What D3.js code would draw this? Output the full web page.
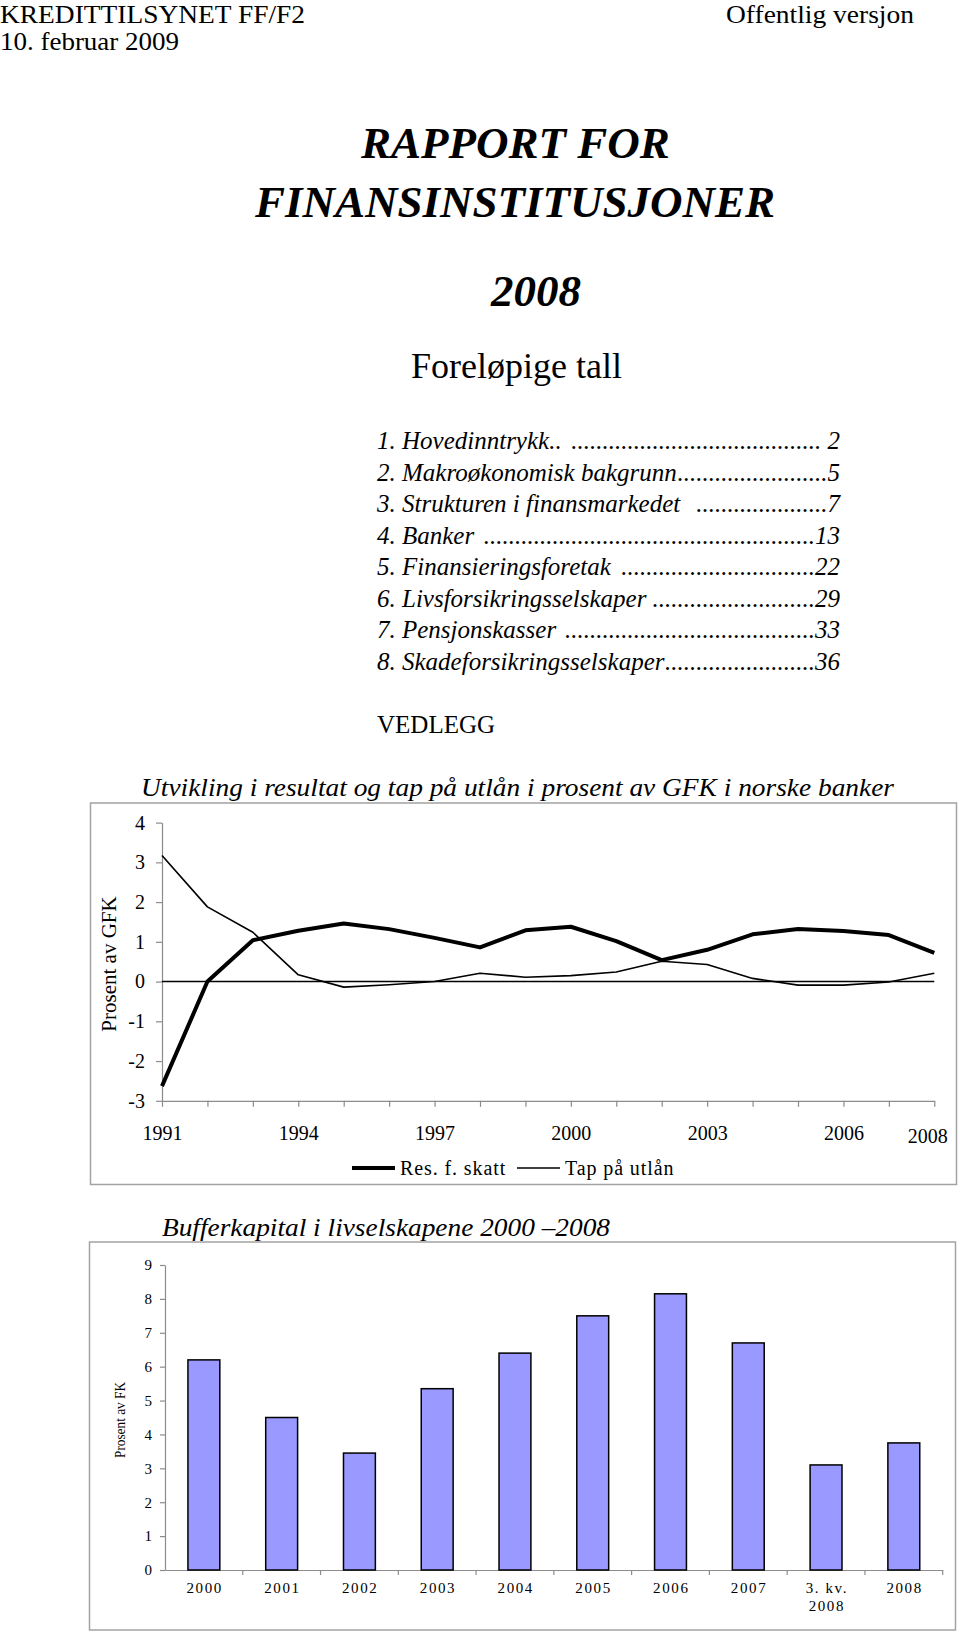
<!DOCTYPE html>
<html><head><meta charset="utf-8">
<script src="https://cdn.jsdelivr.net/npm/d3@7"></script>
<style>
body{margin:0;background:#fff}
svg{display:block}
text{font-family:"Liberation Serif","Times New Roman",serif;fill:#000}
</style>
</head><body>
<svg id="c" width="960" height="1635"></svg>
<script>
// ---------- data ----------
const headerLeft = ["KREDITTILSYNET FF/F2", "10. februar 2009"];
const headerRight = "Offentlig versjon";
const titleLines = ["RAPPORT FOR", "FINANSINSTITUSJONER"];
const titleYear = "2008";
const subtitle = "Foreløpige tall";
const tocLabels = ["1. Hovedinntrykk.. ", "2. Makroøkonomisk bakgrunn", "3. Strukturen i finansmarkedet  ",
  "4. Banker ", "5. Finansieringsforetak ", "6. Livsforsikringsselskaper", "7. Pensjonskasser ",
  "8. Skadeforsikringsselskaper"];
const tocPages = [" 2", "5", "7", "13", "22", "29", "33", "36"];
const appendixLabel = "VEDLEGG";

const lineTitle = "Utvikling i resultat og tap på utlån i prosent av GFK i norske banker";
const lineYLabel = "Prosent av GFK";
const years = [1991,1992,1993,1994,1995,1996,1997,1998,1999,2000,2001,2002,2003,2004,2005,2006,2007,2008];
const resFSkatt = [-2.63,0.0,1.04,1.28,1.46,1.32,1.10,0.86,1.29,1.38,1.02,0.54,0.80,1.19,1.32,1.27,1.17,0.72];
const tapPaUtlan = [3.17,1.88,1.24,0.17,-0.14,-0.08,0.0,0.21,0.11,0.15,0.24,0.51,0.43,0.08,-0.09,-0.09,-0.01,0.21];
const lineSeriesNames = ["Res. f. skatt", "Tap på utlån"];
const lineYTicks = [-3,-2,-1,0,1,2,3,4];
const lineXLabels = [1991,1994,1997,2000,2003,2006,2008];

const barTitle = "Bufferkapital i livselskapene 2000 –2008";
const barYLabel = "Prosent av FK";
const barCategories = ["2000","2001","2002","2003","2004","2005","2006","2007","3. kv.|2008","2008b"];
const barLabels = ["2000","2001","2002","2003","2004","2005","2006","2007",["3. kv.","2008"],"2008"];
const barValues = [6.2,4.5,3.45,5.35,6.4,7.5,8.15,6.7,3.1,3.75];
const barYTicks = [0,1,2,3,4,5,6,7,8,9];

// ---------- page ----------
const svg = d3.select("#c");
const FONT = '"Liberation Serif","Times New Roman",serif';

svg.append("text").attr("x",0).attr("y",22.5).attr("font-size",25)
  .attr("textLength",305).attr("lengthAdjust","spacingAndGlyphs").text(headerLeft[0]);
svg.append("text").attr("x",0).attr("y",50).attr("font-size",26)
  .attr("textLength",179).attr("lengthAdjust","spacingAndGlyphs").text(headerLeft[1]);
svg.append("text").attr("x",726).attr("y",22.5).attr("font-size",25)
  .attr("textLength",188).attr("lengthAdjust","spacingAndGlyphs").text(headerRight);

svg.append("text").attr("x",361).attr("y",158).attr("font-size",45).attr("font-weight","bold").attr("font-style","italic").text(titleLines[0]);
svg.append("text").attr("x",255).attr("y",217).attr("font-size",45).attr("font-weight","bold").attr("font-style","italic").text(titleLines[1]);
svg.append("text").attr("x",491).attr("y",306).attr("font-size",45).attr("font-weight","bold").attr("font-style","italic").text(titleYear);
svg.append("text").attr("x",411).attr("y",378).attr("font-size",36).text(subtitle);

// table of contents with dot leaders
const toc = svg.append("g").attr("font-size",25).attr("font-style","italic");
const tocRight = 840, tocLeft = 377;
tocLabels.forEach((lab,i) => {
  const yb = 449 + i*31.57;
  const t = toc.append("text").attr("x",tocLeft).attr("y",yb).style("white-space","pre").text(lab);
  const w = t.node().getComputedTextLength();
  const p = toc.append("text").attr("x",tocRight).attr("y",yb).attr("text-anchor","end").style("white-space","pre").text(tocPages[i]);
  const pw = p.node().getComputedTextLength();
  const d = toc.append("text").attr("y",yb).attr("text-anchor","end").text(".");
  const dw = d.node().getComputedTextLength();
  const n = Math.max(0, Math.floor((tocRight - pw - (tocLeft + w)) / dw));
  d.attr("x", tocRight - pw).text(".".repeat(n));
});
svg.append("text").attr("x",377).attr("y",733).attr("font-size",25).text(appendixLabel);

// ---------- line chart ----------
const frameColor = "#a3a3a3", axisColor = "#8c8c8c";
svg.append("rect").attr("x",90.5).attr("y",803).attr("width",866).attr("height",381.5)
  .attr("fill","none").attr("stroke",frameColor).attr("stroke-width",1.5);
svg.append("text").attr("x",141).attr("y",796).attr("font-size",26).attr("font-style","italic")
  .attr("textLength",753).attr("lengthAdjust","spacingAndGlyphs").text(lineTitle);

const lx = d3.scaleLinear().domain([1991,2008]).range([162,934.3]);
const ly = d3.scaleLinear().domain([-3,4]).range([1100.8,822.6]);

const gy = svg.append("g").attr("transform",`translate(${lx(1991)},0)`)
  .call(d3.axisLeft(ly).tickValues(lineYTicks).tickSize(6).tickSizeOuter(0).tickPadding(11).tickFormat(d => String(d)));
const gx = svg.append("g").attr("transform",`translate(0,${ly(-3)})`)
  .call(d3.axisBottom(lx).tickValues(years).tickSize(6).tickSizeOuter(0).tickPadding(19)
    .tickFormat(d => lineXLabels.includes(d) ? String(d) : ""));
[gy,gx].forEach(g => {
  g.selectAll("path,line").attr("stroke",axisColor).attr("stroke-width",1.2);
  g.selectAll("text").attr("font-family",FONT).attr("font-size",20).attr("fill","#000");
});
gx.selectAll(".tick text").filter(d => d === 2008).attr("dx",-7).attr("dy","0.86em");

svg.append("line").attr("x1",lx(1991)).attr("x2",lx(2008)).attr("y1",ly(0)).attr("y2",ly(0))
  .attr("stroke","#000").attr("stroke-width",1.6);

const lineGen = d3.line().x((d,i) => lx(years[i])).y(d => ly(d));
svg.append("path").datum(tapPaUtlan).attr("d",lineGen).attr("fill","none").attr("stroke","#000").attr("stroke-width",1.6).attr("stroke-linejoin","round");
svg.append("path").datum(resFSkatt).attr("d",lineGen).attr("fill","none").attr("stroke","#000").attr("stroke-width",4).attr("stroke-linejoin","round");

svg.append("text").attr("font-size",21).attr("text-anchor","middle")
  .attr("transform",`translate(116,964) rotate(-90)`).text(lineYLabel);

// legend
const legY = 1168;
svg.append("line").attr("x1",352).attr("x2",395).attr("y1",legY).attr("y2",legY).attr("stroke","#000").attr("stroke-width",4);
svg.append("text").attr("x",400).attr("y",legY+7).attr("font-size",20).attr("letter-spacing",0.9).text(lineSeriesNames[0]);
svg.append("line").attr("x1",517).attr("x2",560).attr("y1",legY).attr("y2",legY).attr("stroke","#000").attr("stroke-width",1.6);
svg.append("text").attr("x",565).attr("y",legY+7).attr("font-size",20).attr("letter-spacing",0.9).text(lineSeriesNames[1]);

// ---------- bar chart ----------
svg.append("rect").attr("x",89.5).attr("y",1242).attr("width",866).attr("height",388)
  .attr("fill","none").attr("stroke",frameColor).attr("stroke-width",1.5);
svg.append("text").attr("x",162).attr("y",1236).attr("font-size",26).attr("font-style","italic")
  .attr("textLength",448).attr("lengthAdjust","spacingAndGlyphs").text(barTitle);

const bx = d3.scaleBand().domain(barCategories).range([165,942.7]).paddingInner(0.59).paddingOuter(0.295);
const by = d3.scaleLinear().domain([0,9]).range([1570,1265]);

const bgy = svg.append("g").attr("transform",`translate(${bx.range()[0]},0)`)
  .call(d3.axisLeft(by).tickValues(barYTicks).tickSize(5).tickSizeOuter(0).tickPadding(8));
bgy.selectAll("path,line").attr("stroke",axisColor).attr("stroke-width",1.2);
bgy.selectAll("text").attr("font-family",FONT).attr("font-size",15).attr("fill","#000");

const bgx = svg.append("g").attr("transform",`translate(0,${by(0)})`)
  .call(d3.axisBottom(bx).tickSize(0).tickSizeOuter(0).tickFormat(""));
bgx.selectAll("path").attr("stroke",axisColor).attr("stroke-width",1.2);
// category boundary ticks
const step = bx.step(), r0 = bx.range()[0];
bgx.selectAll("line.bt").data(d3.range(1, barCategories.length + 1)).enter().append("line")
  .attr("x1",i => r0 + i*step).attr("x2",i => r0 + i*step).attr("y1",0).attr("y2",5)
  .attr("stroke",axisColor).attr("stroke-width",1.2);

svg.append("g").selectAll("rect").data(barValues).enter().append("rect")
  .attr("x",(d,i) => bx(barCategories[i])).attr("width",bx.bandwidth())
  .attr("y",d => by(d)).attr("height",d => by(0) - by(d))
  .attr("fill","#9999ff").attr("stroke","#000").attr("stroke-width",1.5);

const bl = svg.append("g").attr("font-size",15).attr("letter-spacing",1.6).attr("text-anchor","middle");
barLabels.forEach((lab,i) => {
  const cx = bx(barCategories[i]) + bx.bandwidth()/2 + 0.8;
  const t = bl.append("text").attr("x",cx).attr("y",1593);
  const lines = Array.isArray(lab) ? lab : [lab];
  lines.forEach((s,k) => t.append("tspan").attr("x",cx).attr("dy",k ? 18 : 0).text(s));
});

svg.append("text").attr("font-size",15).attr("text-anchor","middle")
  .attr("textLength",76).attr("lengthAdjust","spacingAndGlyphs")
  .attr("transform",`translate(125,1420) rotate(-90)`).text(barYLabel);
</script>
</body></html>
